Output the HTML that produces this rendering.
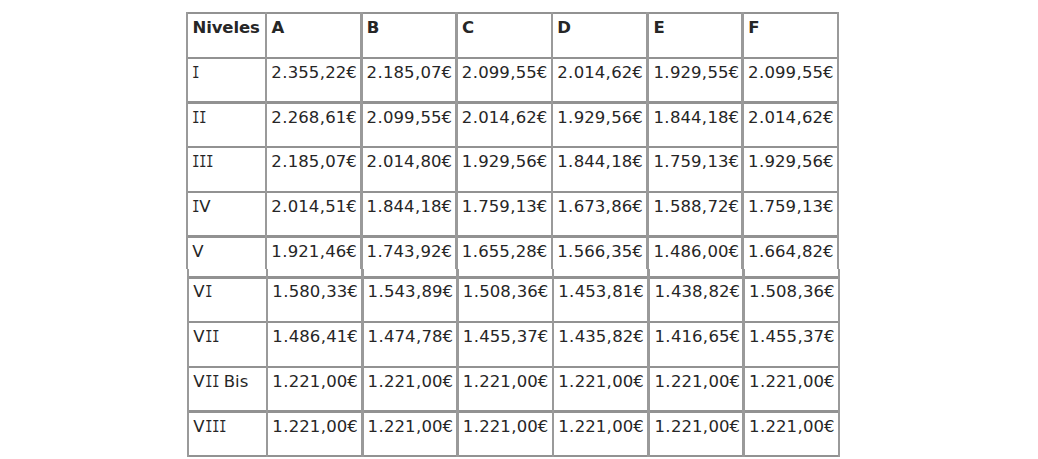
<!DOCTYPE html>
<html><head><meta charset="utf-8"><title>Niveles</title>
<style>
html,body{margin:0;padding:0;background:#fff}
body{width:1038px;height:459px;overflow:hidden;position:relative;
font-family:"DejaVu Sans",Verdana,sans-serif;font-size:16.5px;color:#262626}
svg{position:absolute;left:0;top:0}
.t{position:absolute;white-space:nowrap;line-height:19px}
.p{margin-left:.38px;letter-spacing:.38px}
.b{font-weight:bold;letter-spacing:-.15px}
.i{display:inline-block}
.i>span{display:inline-block;font-family:"DejaVu Sans Mono",monospace;transform:scaleX(.76);transform-origin:0 0;letter-spacing:-.78px}
</style></head><body>
<svg width="1038" height="459" viewBox="0 0 1038 459" shape-rendering="crispEdges"><rect x="186" y="12" width="653" height="2" fill="#929292"/><rect x="186" y="57" width="653" height="2" fill="#929292"/><rect x="186" y="101" width="653" height="3" fill="#929292"/><rect x="186" y="146" width="653" height="2" fill="#929292"/><rect x="186" y="191" width="653" height="2" fill="#929292"/><rect x="186" y="235" width="653" height="3" fill="#929292"/><rect x="187" y="276" width="653" height="3" fill="#929292"/><rect x="187" y="321" width="653" height="2" fill="#929292"/><rect x="187" y="366" width="653" height="2" fill="#929292"/><rect x="187" y="410" width="653" height="3" fill="#929292"/><rect x="187" y="455" width="653" height="2" fill="#929292"/><rect x="186" y="12" width="2" height="257" fill="#9a9a9a"/><rect x="265" y="12" width="2" height="257" fill="#9a9a9a"/><rect x="360" y="12" width="3" height="257" fill="#9a9a9a"/><rect x="455" y="12" width="3" height="257" fill="#9a9a9a"/><rect x="551" y="12" width="2" height="257" fill="#9a9a9a"/><rect x="646" y="12" width="3" height="257" fill="#9a9a9a"/><rect x="741" y="12" width="3" height="257" fill="#9a9a9a"/><rect x="837" y="12" width="2" height="257" fill="#9a9a9a"/><rect x="187" y="269" width="2" height="188" fill="#9a9a9a"/><rect x="266" y="269" width="2" height="188" fill="#9a9a9a"/><rect x="361" y="269" width="3" height="188" fill="#9a9a9a"/><rect x="456" y="269" width="3" height="188" fill="#9a9a9a"/><rect x="552" y="269" width="2" height="188" fill="#9a9a9a"/><rect x="647" y="269" width="3" height="188" fill="#9a9a9a"/><rect x="742" y="269" width="3" height="188" fill="#9a9a9a"/><rect x="838" y="269" width="2" height="188" fill="#9a9a9a"/></svg>
<div class="t b" style="left:192.60px;top:18px">Niveles</div>
<div class="t b" style="left:271.40px;top:18px">A</div>
<div class="t b" style="left:366.70px;top:18px">B</div>
<div class="t b" style="left:461.90px;top:18px">C</div>
<div class="t b" style="left:557.30px;top:18px">D</div>
<div class="t b" style="left:653.50px;top:18px">E</div>
<div class="t b" style="left:748.20px;top:18px">F</div>
<div class="t" style="left:192.30px;top:63px"><span class="i" style="width:6.95px"><span>I</span></span></div>
<div class="t" style="left:271.30px;top:63px">2<span class="p">.</span>355<span class="p">,</span>22€</div>
<div class="t" style="left:366.60px;top:63px">2<span class="p">.</span>185<span class="p">,</span>07€</div>
<div class="t" style="left:461.80px;top:63px">2<span class="p">.</span>099<span class="p">,</span>55€</div>
<div class="t" style="left:557.20px;top:63px">2<span class="p">.</span>014<span class="p">,</span>62€</div>
<div class="t" style="left:653.40px;top:63px">1<span class="p">.</span>929<span class="p">,</span>55€</div>
<div class="t" style="left:748.10px;top:63px">2<span class="p">.</span>099<span class="p">,</span>55€</div>
<div class="t" style="left:192.30px;top:108px"><span class="i" style="width:13.90px"><span>II</span></span></div>
<div class="t" style="left:271.30px;top:108px">2<span class="p">.</span>268<span class="p">,</span>61€</div>
<div class="t" style="left:366.60px;top:108px">2<span class="p">.</span>099<span class="p">,</span>55€</div>
<div class="t" style="left:461.80px;top:108px">2<span class="p">.</span>014<span class="p">,</span>62€</div>
<div class="t" style="left:557.20px;top:108px">1<span class="p">.</span>929<span class="p">,</span>56€</div>
<div class="t" style="left:653.40px;top:108px">1<span class="p">.</span>844<span class="p">,</span>18€</div>
<div class="t" style="left:748.10px;top:108px">2<span class="p">.</span>014<span class="p">,</span>62€</div>
<div class="t" style="left:192.30px;top:152px"><span class="i" style="width:20.85px"><span>III</span></span></div>
<div class="t" style="left:271.30px;top:152px">2<span class="p">.</span>185<span class="p">,</span>07€</div>
<div class="t" style="left:366.60px;top:152px">2<span class="p">.</span>014<span class="p">,</span>80€</div>
<div class="t" style="left:461.80px;top:152px">1<span class="p">.</span>929<span class="p">,</span>56€</div>
<div class="t" style="left:557.20px;top:152px">1<span class="p">.</span>844<span class="p">,</span>18€</div>
<div class="t" style="left:653.40px;top:152px">1<span class="p">.</span>759<span class="p">,</span>13€</div>
<div class="t" style="left:748.10px;top:152px">1<span class="p">.</span>929<span class="p">,</span>56€</div>
<div class="t" style="left:192.30px;top:197px"><span class="i" style="width:6.95px"><span>I</span></span>V</div>
<div class="t" style="left:271.30px;top:197px">2<span class="p">.</span>014<span class="p">,</span>51€</div>
<div class="t" style="left:366.60px;top:197px">1<span class="p">.</span>844<span class="p">,</span>18€</div>
<div class="t" style="left:461.80px;top:197px">1<span class="p">.</span>759<span class="p">,</span>13€</div>
<div class="t" style="left:557.20px;top:197px">1<span class="p">.</span>673<span class="p">,</span>86€</div>
<div class="t" style="left:653.40px;top:197px">1<span class="p">.</span>588<span class="p">,</span>72€</div>
<div class="t" style="left:748.10px;top:197px">1<span class="p">.</span>759<span class="p">,</span>13€</div>
<div class="t" style="left:192.30px;top:242px">V</div>
<div class="t" style="left:271.30px;top:242px">1<span class="p">.</span>921<span class="p">,</span>46€</div>
<div class="t" style="left:366.60px;top:242px">1<span class="p">.</span>743<span class="p">,</span>92€</div>
<div class="t" style="left:461.80px;top:242px">1<span class="p">.</span>655<span class="p">,</span>28€</div>
<div class="t" style="left:557.20px;top:242px">1<span class="p">.</span>566<span class="p">,</span>35€</div>
<div class="t" style="left:653.40px;top:242px">1<span class="p">.</span>486<span class="p">,</span>00€</div>
<div class="t" style="left:748.10px;top:242px">1<span class="p">.</span>664<span class="p">,</span>82€</div>
<div class="t" style="left:193.30px;top:282px">V<span class="i" style="width:6.95px"><span>I</span></span></div>
<div class="t" style="left:272.30px;top:282px">1<span class="p">.</span>580<span class="p">,</span>33€</div>
<div class="t" style="left:367.60px;top:282px">1<span class="p">.</span>543<span class="p">,</span>89€</div>
<div class="t" style="left:462.80px;top:282px">1<span class="p">.</span>508<span class="p">,</span>36€</div>
<div class="t" style="left:558.20px;top:282px">1<span class="p">.</span>453<span class="p">,</span>81€</div>
<div class="t" style="left:654.40px;top:282px">1<span class="p">.</span>438<span class="p">,</span>82€</div>
<div class="t" style="left:749.10px;top:282px">1<span class="p">.</span>508<span class="p">,</span>36€</div>
<div class="t" style="left:193.30px;top:327px">V<span class="i" style="width:13.90px"><span>II</span></span></div>
<div class="t" style="left:272.30px;top:327px">1<span class="p">.</span>486<span class="p">,</span>41€</div>
<div class="t" style="left:367.60px;top:327px">1<span class="p">.</span>474<span class="p">,</span>78€</div>
<div class="t" style="left:462.80px;top:327px">1<span class="p">.</span>455<span class="p">,</span>37€</div>
<div class="t" style="left:558.20px;top:327px">1<span class="p">.</span>435<span class="p">,</span>82€</div>
<div class="t" style="left:654.40px;top:327px">1<span class="p">.</span>416<span class="p">,</span>65€</div>
<div class="t" style="left:749.10px;top:327px">1<span class="p">.</span>455<span class="p">,</span>37€</div>
<div class="t" style="left:193.30px;top:372px">V<span class="i" style="width:13.90px"><span>II</span></span> Bis</div>
<div class="t" style="left:272.30px;top:372px">1<span class="p">.</span>221<span class="p">,</span>00€</div>
<div class="t" style="left:367.60px;top:372px">1<span class="p">.</span>221<span class="p">,</span>00€</div>
<div class="t" style="left:462.80px;top:372px">1<span class="p">.</span>221<span class="p">,</span>00€</div>
<div class="t" style="left:558.20px;top:372px">1<span class="p">.</span>221<span class="p">,</span>00€</div>
<div class="t" style="left:654.40px;top:372px">1<span class="p">.</span>221<span class="p">,</span>00€</div>
<div class="t" style="left:749.10px;top:372px">1<span class="p">.</span>221<span class="p">,</span>00€</div>
<div class="t" style="left:193.30px;top:417px">V<span class="i" style="width:20.85px"><span>III</span></span></div>
<div class="t" style="left:272.30px;top:417px">1<span class="p">.</span>221<span class="p">,</span>00€</div>
<div class="t" style="left:367.60px;top:417px">1<span class="p">.</span>221<span class="p">,</span>00€</div>
<div class="t" style="left:462.80px;top:417px">1<span class="p">.</span>221<span class="p">,</span>00€</div>
<div class="t" style="left:558.20px;top:417px">1<span class="p">.</span>221<span class="p">,</span>00€</div>
<div class="t" style="left:654.40px;top:417px">1<span class="p">.</span>221<span class="p">,</span>00€</div>
<div class="t" style="left:749.10px;top:417px">1<span class="p">.</span>221<span class="p">,</span>00€</div>
</body></html>
